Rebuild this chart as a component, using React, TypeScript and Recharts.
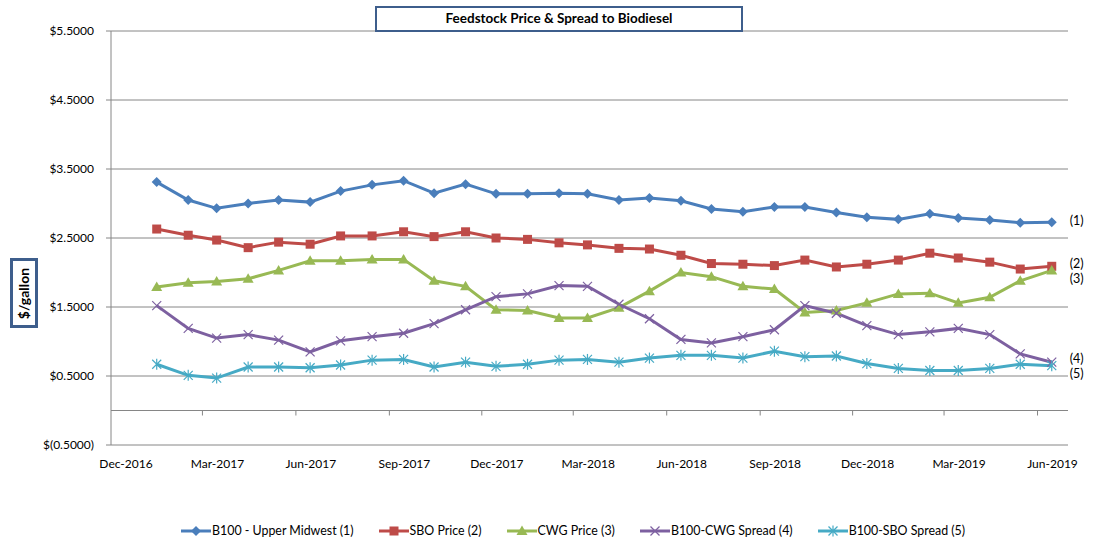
import { LineChart, Line, XAxis, YAxis, CartesianGrid, ReferenceLine } from 'recharts';

// mid-month observation dates
const dates = [
  '2017-01-15', '2017-02-15', '2017-03-15', '2017-04-15', '2017-05-15', '2017-06-15',
  '2017-07-15', '2017-08-15', '2017-09-15', '2017-10-15', '2017-11-15', '2017-12-15',
  '2018-01-15', '2018-02-15', '2018-03-15', '2018-04-15', '2018-05-15', '2018-06-15',
  '2018-07-15', '2018-08-15', '2018-09-15', '2018-10-15', '2018-11-15', '2018-12-15',
  '2019-01-15', '2019-02-15', '2019-03-15', '2019-04-15', '2019-05-15', '2019-06-15',
];

const b100 = [
  3.31, 3.05, 2.93, 3.0, 3.05, 3.02, 3.18, 3.27, 3.33, 3.15, 3.28, 3.14,
  3.14, 3.15, 3.14, 3.05, 3.08, 3.04, 2.92, 2.88, 2.95, 2.95, 2.87, 2.8,
  2.77, 2.85, 2.79, 2.76, 2.72, 2.73,
];
const sbo = [
  2.63, 2.54, 2.47, 2.36, 2.44, 2.41, 2.53, 2.53, 2.59, 2.52, 2.59, 2.5,
  2.48, 2.43, 2.4, 2.35, 2.34, 2.25, 2.13, 2.12, 2.1, 2.18, 2.08, 2.12,
  2.18, 2.28, 2.21, 2.15, 2.05, 2.09,
];
const cwg = [
  1.79, 1.85, 1.87, 1.91, 2.03, 2.17, 2.17, 2.19, 2.19, 1.88, 1.8, 1.46,
  1.45, 1.34, 1.34, 1.49, 1.73, 2.0, 1.94, 1.8, 1.76, 1.42, 1.45, 1.56,
  1.69, 1.7, 1.56, 1.64, 1.88, 2.03,
];
const b100CwgSpread = [
  1.52, 1.19, 1.05, 1.1, 1.02, 0.85, 1.01, 1.07, 1.12, 1.26, 1.46, 1.65,
  1.69, 1.81, 1.8, 1.54, 1.33, 1.03, 0.98, 1.07, 1.17, 1.52, 1.41, 1.23,
  1.1, 1.14, 1.19, 1.1, 0.82, 0.7,
];
const b100SboSpread = [
  0.67, 0.51, 0.47, 0.63, 0.63, 0.62, 0.66, 0.73, 0.74, 0.63, 0.7, 0.64,
  0.67, 0.73, 0.74, 0.7, 0.76, 0.8, 0.8, 0.76, 0.86, 0.78, 0.79, 0.68,
  0.61, 0.58, 0.58, 0.61, 0.67, 0.65,
];

const tickDates = [
  '2016-12-01', '2017-03-01', '2017-06-01', '2017-09-01', '2017-12-01', '2018-03-01',
  '2018-06-01', '2018-09-01', '2018-12-01', '2019-03-01', '2019-06-01',
];
const tickLabels = [
  'Dec-2016', 'Mar-2017', 'Jun-2017', 'Sep-2017', 'Dec-2017', 'Mar-2018',
  'Jun-2018', 'Sep-2018', 'Dec-2018', 'Mar-2019', 'Jun-2019',
];
const yTicks = [-0.5, 0.5, 1.5, 2.5, 3.5, 4.5, 5.5];

const ts = (d: string) => Date.parse(d + 'T00:00:00Z');
const tickTimes = tickDates.map(ts);

const data = dates.map((d, i) => ({
  t: ts(d),
  b100: b100[i],
  sbo: sbo[i],
  cwg: cwg[i],
  b100Cwg: b100CwgSpread[i],
  b100Sbo: b100SboSpread[i],
}));

const W = 1105;
const H = 547;
const TOP = 31;
const PLOT_BOTTOM = 445;
const Y_MIN = -0.5;
const Y_MAX = 5.5;
const ZERO_Y = TOP + ((Y_MAX - 0) / (Y_MAX - Y_MIN)) * (PLOT_BOTTOM - TOP);
const GRID = '#868686';
const FONT = 'Lato, "Open Sans", sans-serif';
const LAST = dates.length - 1;

type Shape = 'diamond' | 'square' | 'triangle' | 'x' | 'star';

const series: { key: string; name: string; color: string; shape: Shape; tag: string; dy: number }[] = [
  { key: 'b100', name: 'B100 - Upper Midwest (1)', color: '#4A7EBB', shape: 'diamond', tag: '(1)', dy: -2 },
  { key: 'sbo', name: 'SBO Price (2)', color: '#BE4B48', shape: 'square', tag: '(2)', dy: -3 },
  { key: 'cwg', name: 'CWG Price (3)', color: '#98B954', shape: 'triangle', tag: '(3)', dy: 8 },
  { key: 'b100Cwg', name: 'B100-CWG Spread (4)', color: '#7D60A0', shape: 'x', tag: '(4)', dy: -4 },
  { key: 'b100Sbo', name: 'B100-SBO Spread (5)', color: '#46AAC5', shape: 'star', tag: '(5)', dy: 8 },
];

const Marker = ({ shape, cx, cy, color }: { shape: Shape; cx: number; cy: number; color: string }) => {
  if (shape === 'diamond') {
    return <polygon points={`${cx},${cy - 5} ${cx + 5},${cy} ${cx},${cy + 5} ${cx - 5},${cy}`} fill={color} />;
  }
  if (shape === 'square') {
    return <rect x={cx - 4.5} y={cy - 4.5} width={9} height={9} fill={color} />;
  }
  if (shape === 'triangle') {
    return <polygon points={`${cx},${cy - 5.5} ${cx + 5.5},${cy + 4} ${cx - 5.5},${cy + 4}`} fill={color} />;
  }
  const cross = (
    <>
      <line x1={cx - 4.5} y1={cy - 4.5} x2={cx + 4.5} y2={cy + 4.5} stroke={color} strokeWidth={1.2} />
      <line x1={cx - 4.5} y1={cy + 4.5} x2={cx + 4.5} y2={cy - 4.5} stroke={color} strokeWidth={1.2} />
    </>
  );
  if (shape === 'x') return <g>{cross}</g>;
  return (
    <g>
      {cross}
      <line x1={cx} y1={cy - 5.5} x2={cx} y2={cy + 5.5} stroke={color} strokeWidth={1.2} />
    </g>
  );
};

const makeDot = (s: (typeof series)[number]) => (props: any) => {
  const { cx, cy, index } = props;
  return (
    <g key={`${s.key}-${index}`}>
      <Marker shape={s.shape} cx={cx} cy={cy} color={s.color} />
      {index === LAST && (
        <text x={cx + 18} y={cy + s.dy} dominantBaseline="central" fontSize={12.5} fontFamily={FONT} fill="#000">
          {s.tag}
        </text>
      )}
    </g>
  );
};

const XTick = (props: any) => {
  const { x, payload } = props;
  const i = tickTimes.indexOf(payload.value);
  return (
    <g>
      {i > 0 && <line x1={x} x2={x} y1={ZERO_Y} y2={ZERO_Y + 5} stroke={GRID} />}
      <text x={x + 15} y={PLOT_BOTTOM + 18} textAnchor="middle" dominantBaseline="central" fontSize={12} fontFamily={FONT} fill="#000">
        {tickLabels[i]}
      </text>
    </g>
  );
};

const fmtY = (v: number) => (v < 0 ? `$(${Math.abs(v).toFixed(4)})` : `$${v.toFixed(4)}`);

const App = () => {
  return (
    <div style={{ position: 'absolute', left: 0, top: 0, width: W, height: H, background: '#fff', fontFamily: FONT }}>
      <LineChart width={W} height={H} data={data} margin={{ top: TOP, right: 37, left: 51, bottom: 72 }}>
        <CartesianGrid horizontal vertical={false} stroke={GRID} />
        <XAxis
          dataKey="t"
          type="number"
          scale="time"
          domain={[ts('2016-12-01'), ts('2019-07-01')]}
          ticks={tickTimes}
          axisLine={false}
          tickLine={false}
          height={30}
          tick={<XTick />}
          interval={0}
        />
        <YAxis
          type="number"
          domain={[Y_MIN, Y_MAX]}
          ticks={yTicks}
          width={60}
          axisLine={{ stroke: GRID }}
          tickLine={{ stroke: GRID }}
          tickSize={5}
          tickMargin={12}
          tickFormatter={fmtY}
          tick={{ fill: '#000', fontSize: 12, fontFamily: FONT }}
          interval={0}
        />
        <ReferenceLine y={0} stroke={GRID} />
        {series.map((s) => (
          <Line
            key={s.key}
            dataKey={s.key}
            name={s.name}
            stroke={s.color}
            strokeWidth={3}
            dot={makeDot(s)}
            activeDot={false}
            isAnimationActive={false}
          />
        ))}
      </LineChart>

      <div
        style={{
          position: 'absolute', left: 375, top: 6, width: 368, height: 26, boxSizing: 'border-box',
          border: '2.5px solid #3E5E8C', background: '#fff', textAlign: 'center',
          fontWeight: 700, fontSize: 13.5, lineHeight: '21px', color: '#000',
        }}
      >
        Feedstock Price &amp; Spread to Biodiesel
      </div>

      <div
        style={{
          position: 'absolute', left: 10, top: 258, width: 28, height: 70, boxSizing: 'border-box',
          border: '3px solid #3E5E8C', background: '#fff', display: 'flex',
          alignItems: 'center', justifyContent: 'center',
        }}
      >
        <span style={{ transform: 'rotate(-90deg)', whiteSpace: 'nowrap', fontWeight: 700, fontSize: 14, color: '#000' }}>
          $/gallon
        </span>
      </div>

      <div style={{ position: 'absolute', left: 181, top: 523, display: 'flex', alignItems: 'center', gap: 25, fontSize: 12.4, color: '#000' }}>
        {series.map((s) => (
          <div key={s.key} style={{ display: 'flex', alignItems: 'center' }}>
            <svg width={30} height={14}>
              <line x1={0} y1={7} x2={30} y2={7} stroke={s.color} strokeWidth={3} />
              <Marker shape={s.shape} cx={15} cy={7} color={s.color} />
            </svg>
            <span style={{ marginLeft: 1, whiteSpace: 'nowrap' }}>{s.name}</span>
          </div>
        ))}
      </div>
    </div>
  );
};

export default App;
